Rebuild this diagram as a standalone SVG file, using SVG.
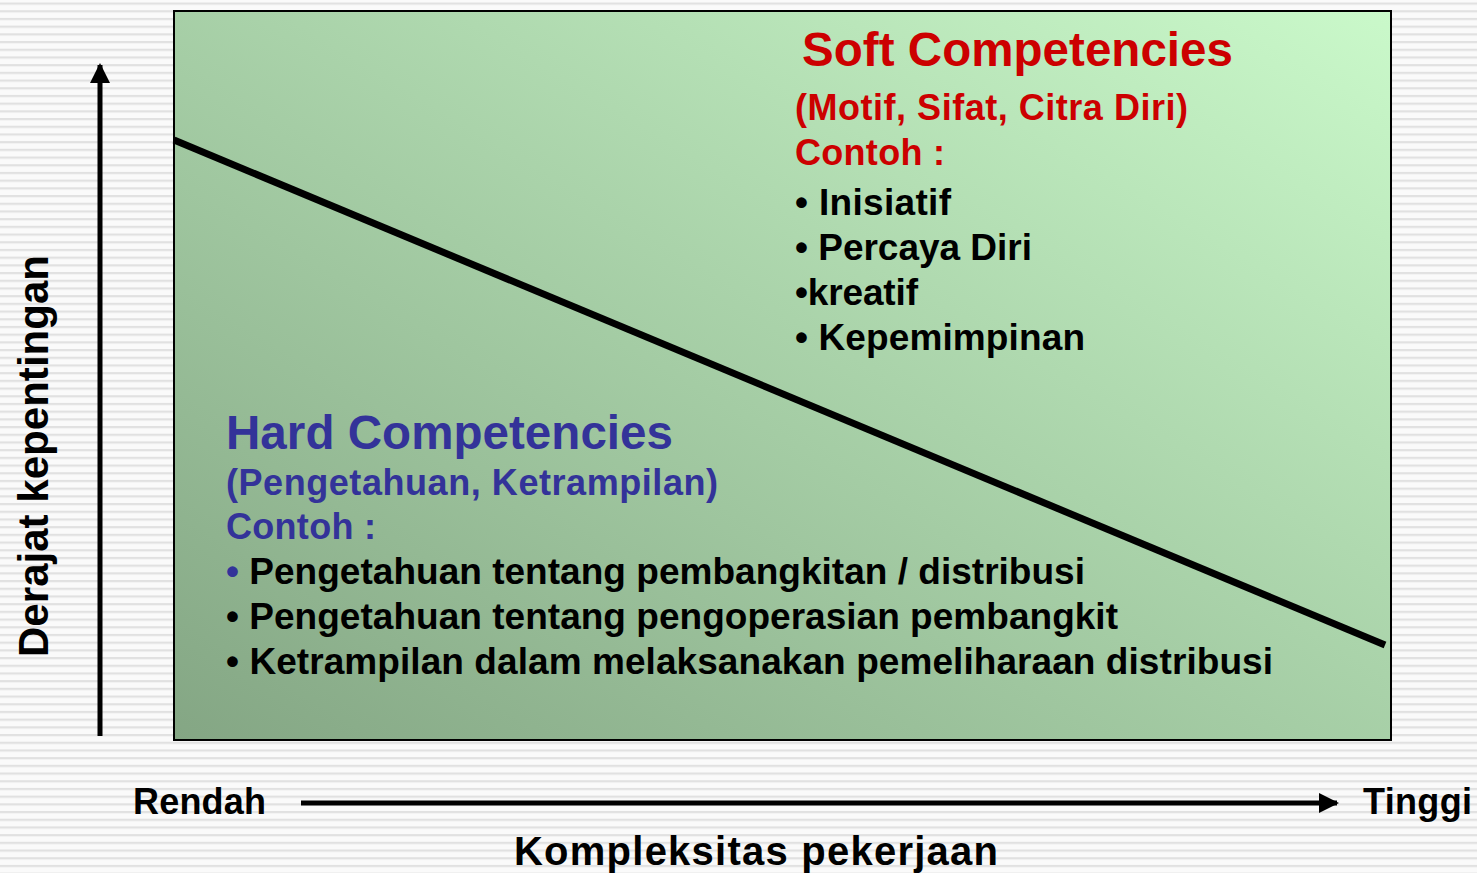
<svg xmlns="http://www.w3.org/2000/svg" width="1477" height="873" viewBox="0 0 1477 873">
<defs>
<pattern id="stripes" x="0" y="2.5" width="20" height="7.7" patternUnits="userSpaceOnUse">
<rect x="0" y="0" width="20" height="7.7" fill="#fafafa"/>
<rect x="0" y="0" width="20" height="2.2" fill="#e1e1e1"/>
</pattern>
<linearGradient id="bg" x1="0" y1="1" x2="1" y2="0">
<stop offset="0" stop-color="#84a684"/>
<stop offset="1" stop-color="#caf9ca"/>
</linearGradient>
<marker id="ah" viewBox="0 0 10 10" refX="9" refY="5" markerWidth="4" markerHeight="4" orient="auto" markerUnits="strokeWidth">
<path d="M0,0 L10,5 L0,10 Z" fill="#000"/>
</marker>
</defs>
<style>
text{font-family:"Liberation Sans",Arial,sans-serif;font-weight:bold}
.soft{fill:#cc0000}
.hard{fill:#333399}
.blk{fill:#000}
</style>
<rect x="0" y="0" width="1477" height="873" fill="url(#stripes)"/>
<g id="panel">
<rect x="174" y="11" width="1217" height="729" fill="url(#bg)" stroke="#000" stroke-width="2"/>
</g>
<g id="connectors">
<line x1="174" y1="140" x2="1385" y2="645" stroke="#000" stroke-width="7"/>
<line x1="100" y1="736" x2="100" y2="65" stroke="#000" stroke-width="5" marker-end="url(#ah)"/>
<line x1="301" y1="803" x2="1337" y2="803" stroke="#000" stroke-width="5" marker-end="url(#ah)"/>
</g>
<g id="soft">
<text x="802" y="66" font-size="47.5" class="soft" textLength="431">Soft Competencies</text>
<text x="795" y="120" font-size="36" class="soft" textLength="393">(Motif, Sifat, Citra Diri)</text>
<text x="795" y="165" font-size="36" class="soft" textLength="150">Contoh :</text>
<text x="795" y="215" font-size="37" class="blk" textLength="156">•  Inisiatif</text>
<text x="795" y="260" font-size="37" class="blk" textLength="237">• Percaya Diri</text>
<text x="795" y="305" font-size="37" class="blk" textLength="123">•kreatif</text>
<text x="795" y="350" font-size="37" class="blk" textLength="290">• Kepemimpinan</text>
</g>
<g id="hard">
<text x="226" y="449" font-size="47.5" class="hard" textLength="447">Hard Competencies</text>
<text x="226" y="495" font-size="36" class="hard" textLength="492">(Pengetahuan, Ketrampilan)</text>
<text x="226" y="539" font-size="36" class="hard" textLength="150">Contoh :</text>
<text x="226" y="584" font-size="37" class="blk" textLength="859"><tspan class="hard">•</tspan> Pengetahuan tentang pembangkitan / distribusi</text>
<text x="226" y="629" font-size="37" class="blk" textLength="892">• Pengetahuan tentang pengoperasian pembangkit</text>
<text x="226" y="674" font-size="37" class="blk" textLength="1047">• Ketrampilan dalam melaksanakan pemeliharaan distribusi</text>
</g>
<g id="axis-labels">
<text x="133" y="814" font-size="36" class="blk" textLength="133">Rendah</text>
<text x="1363" y="814" font-size="36" class="blk" textLength="109">Tinggi</text>
<text x="514" y="865" font-size="40" class="blk" textLength="484">Kompleksitas pekerjaan</text>
<text transform="translate(48,657) rotate(-90)" x="0" y="0" font-size="42" class="blk" textLength="402">Derajat kepentingan</text>
</g>
</svg>
